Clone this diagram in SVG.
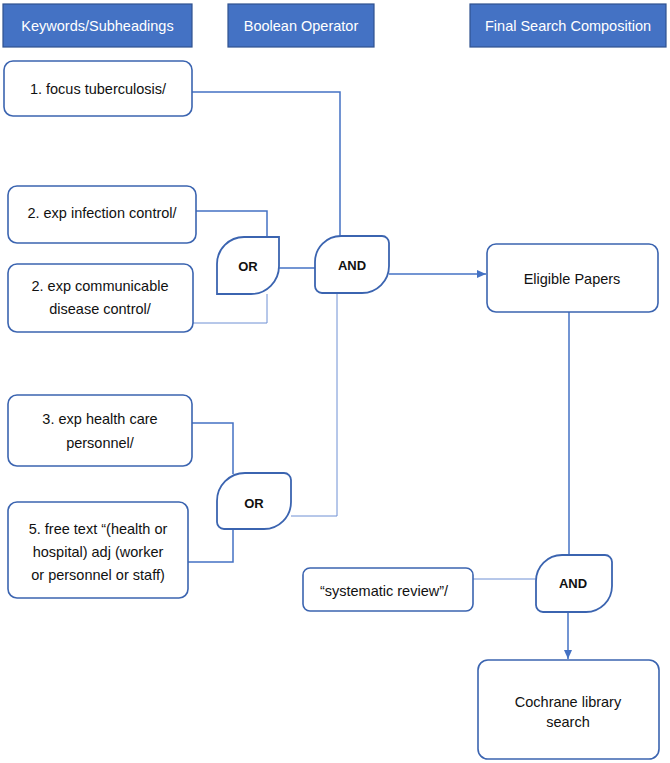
<svg xmlns="http://www.w3.org/2000/svg" width="670" height="763" viewBox="0 0 670 763">
<style>
.hdr{fill:#4472C4;stroke:#2F528F;stroke-width:1.2}
.ht{fill:#fff;font-family:"Liberation Sans",Arial,sans-serif;font-size:14.5px;text-anchor:middle}
.box{fill:#fff;stroke:#3B64B0;stroke-width:1.6}
.t{fill:#111;font-family:"Liberation Sans",Arial,sans-serif;font-size:14.5px;text-anchor:middle}
.g{fill:#fff;stroke:#3B64B0;stroke-width:1.8}
.gt{fill:#111;font-family:"Liberation Sans",Arial,sans-serif;font-size:13px;font-weight:bold;text-anchor:middle}
.c{fill:none;stroke:#4472C4;stroke-width:1.5}
.cl{fill:none;stroke:#6E90D4;stroke-width:1}
</style>
<defs>
<marker id="ar" markerWidth="10" markerHeight="10" refX="9" refY="5" orient="auto" markerUnits="userSpaceOnUse">
<path d="M0,1 L9,5 L0,9 Z" fill="#4472C4"/>
</marker>
</defs>
<g id="connectors">
<path class="c" d="M192,92 H340 V236"/>
<path class="c" d="M196,211 H267 V237"/>
<path class="cl" d="M267,294 V323 H193"/>
<path class="c" d="M279,268 H315"/>
<path class="c" d="M389,274 H486" marker-end="url(#ar)"/>
<path class="cl" d="M337,293 V516 H291"/>
<path class="c" d="M192,423 H233 V474"/>
<path class="c" d="M188,562 H233 V529"/>
<path class="c" d="M569,312 V555"/>
<path class="cl" d="M473,579 H536"/>
<path class="c" d="M568,612 V659" marker-end="url(#ar)"/>
</g>
<g id="h1"><rect class="hdr" x="3" y="4" width="189" height="43"/><text class="ht" x="97.5" y="31">Keywords/Subheadings</text></g>
<g id="h2"><rect class="hdr" x="228" y="4" width="146" height="43"/><text class="ht" x="301" y="31">Boolean Operator</text></g>
<g id="h3"><rect class="hdr" x="470" y="4" width="196" height="43"/><text class="ht" x="568" y="31">Final Search Composition</text></g>
<g id="n1"><rect class="box" x="4" y="61" width="188" height="55" rx="9"/><text class="t" x="98" y="94">1. focus tuberculosis/</text></g>
<g id="n2"><rect class="box" x="8" y="186" width="188" height="57" rx="9"/><text class="t" x="102" y="218">2. exp infection control/</text></g>
<g id="n2b"><rect class="box" x="8" y="264" width="185" height="68" rx="9"/><text class="t" x="100" y="291">2. exp communicable</text><text class="t" x="100" y="314">disease control/</text></g>
<g id="n3"><rect class="box" x="8" y="395" width="184" height="71" rx="9"/><text class="t" x="100" y="424">3. exp health care</text><text class="t" x="100" y="448">personnel/</text></g>
<g id="n5"><rect class="box" x="8" y="502" width="180" height="96" rx="9"/><text class="t" x="98" y="534">5. free text “(health or</text><text class="t" x="98" y="557">hospital) adj (worker</text><text class="t" x="98" y="580">or personnel or staff)</text></g>
<g id="or1"><path class="g" d="M244,237 H279 V266 A28,28 0 0 1 251,294 H217 V264 A27,27 0 0 1 244,237 Z"/><text class="gt" x="248" y="271">OR</text></g>
<g id="and1"><path class="g" d="M341,236 H382 A7,7 0 0 1 389,243 V266 A27,27 0 0 1 362,293 H322 A7,7 0 0 1 315,286 V262 A26,26 0 0 1 341,236 Z"/><text class="gt" x="352" y="270">AND</text></g>
<g id="or2"><path class="g" d="M245,473 H284 A7,7 0 0 1 291,480 V502 A27,27 0 0 1 264,529 H224 A7,7 0 0 1 217,522 V501 A28,28 0 0 1 245,473 Z"/><text class="gt" x="254" y="508">OR</text></g>
<g id="ep"><rect class="box" x="487" y="244" width="171" height="68" rx="9"/><text class="t" x="572" y="284">Eligible Papers</text></g>
<g id="sr"><rect class="box" x="303" y="568" width="170" height="43" rx="7"/><text class="t" x="384" y="596">“systematic review”/</text></g>
<g id="and2"><path class="g" d="M562,555 H605 A7,7 0 0 1 612,562 V586 A26,26 0 0 1 586,612 H543 A7,7 0 0 1 536,605 V581 A26,26 0 0 1 562,555 Z"/><text class="gt" x="573" y="588">AND</text></g>
<g id="cl"><rect class="box" x="478" y="660" width="181" height="99" rx="10"/><text class="t" x="568" y="707">Cochrane library</text><text class="t" x="568" y="727">search</text></g>
</svg>
